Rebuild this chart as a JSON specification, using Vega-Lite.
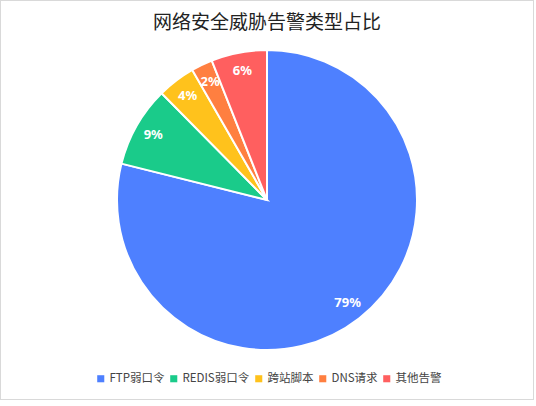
{
  "$schema": "https://vega.github.io/schema/vega-lite/v6.json",
  "width": 534,
  "height": 400,
  "padding": 0,
  "autosize": "none",
  "background": "white",
  "title": {
    "text": "网络安全威胁告警类型占比",
    "font": "Noto Sans CJK SC",
    "fontSize": 19,
    "fontWeight": "normal",
    "color": "#222222",
    "anchor": "middle",
    "offset": -34
  },
  "config": {
    "view": {"stroke": null},
    "font": "Noto Sans CJK SC"
  },
  "layer": [
    {
      "data": {"values": [{"k": 1}]},
      "mark": {"type": "rect", "fill": null, "stroke": "#d9d9d9", "strokeWidth": 2},
      "encoding": {}
    },
    {
      "data": {
        "values": [
          {"type": "FTP弱口令", "pct": 0.789, "ord": 1},
          {"type": "REDIS弱口令", "pct": 0.087, "ord": 2},
          {"type": "跨站脚本", "pct": 0.041, "ord": 3},
          {"type": "DNS请求", "pct": 0.023, "ord": 4},
          {"type": "其他告警", "pct": 0.06, "ord": 5}
        ]
      },
      "encoding": {
        "theta": {"field": "pct", "type": "quantitative", "stack": true},
        "order": {"field": "ord", "type": "quantitative"}
      },
      "layer": [
        {
          "mark": {"type": "arc", "outerRadius": 150, "stroke": "white", "strokeWidth": 2},
          "encoding": {
            "color": {
              "field": "type",
              "type": "nominal",
              "sort": ["FTP弱口令", "REDIS弱口令", "跨站脚本", "DNS请求", "其他告警"],
              "scale": {
                "domain": ["FTP弱口令", "REDIS弱口令", "跨站脚本", "DNS请求", "其他告警"],
                "range": ["#4E80FF", "#1ACB8A", "#FFC21C", "#FF7F40", "#FF5F5F"]
              },
              "legend": {
                "title": null,
                "orient": "none",
                "legendX": 95,
                "legendY": 373,
                "direction": "horizontal",
                "gridAlign": "none",
                "symbolType": "square",
                "symbolSize": 50,
                "symbolStrokeWidth": 0,
                "labelFontSize": 11.5,
                "labelColor": "#444444",
                "columnPadding": 3,
                "labelOffset": 3
              }
            }
          }
        },
        {
          "mark": {"type": "text", "radius": 131, "fill": "white", "fontSize": 13, "fontWeight": "bold", "font": "Noto Sans"},
          "encoding": {
            "text": {"field": "pct", "type": "quantitative", "format": ".0%"}
          }
        }
      ]
    }
  ]
}
